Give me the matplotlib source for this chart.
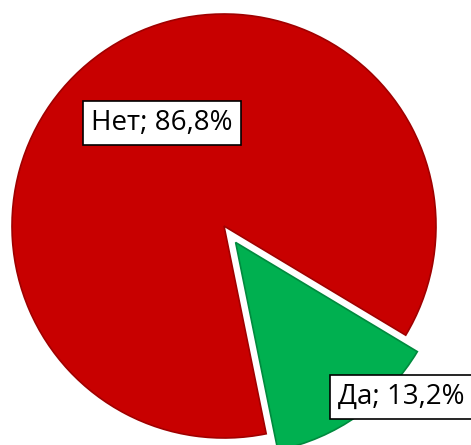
import matplotlib
matplotlib.use("Agg")
import matplotlib.pyplot as plt

categories = ["Нет", "Да"]
values = [86.8, 13.2]
labels = ["Нет; 86,8%", "Да; 13,2%"]

colors = ["#C80000", "#00B050"]
edges = ["#A00000", "#008A3E"]

W, H = 471, 445
fig = plt.figure(figsize=(W / 100, H / 100), dpi=100)
ax = fig.add_axes([0, 0, 1, 1])

cx, cy, r = 224, 226, 212  # pixel centre / radius
wedges, _ = ax.pie(values, colors=colors, startangle=-31, counterclock=True,
                   explode=[0, 0.095], radius=1,
                   wedgeprops=dict(linewidth=1.2))
for w, e in zip(wedges, edges):
    w.set_edgecolor(e)

ax.set_aspect("auto")
ax.set_xlim(-cx / r, (W - cx) / r)
ax.set_ylim(-(H - cy) / r, cy / r)
ax.axis("off")

font = ["Open Sans", "DejaVu Sans"]
box = dict(boxstyle="square,pad=0.3", facecolor="white", edgecolor="black", linewidth=1.2)
fig.text(162 / W, 1 - 123 / H, labels[0], ha="center", va="center",
         fontsize=20, family=font, color="black", bbox=box)
fig.text(338 / W, 1 - 397 / H, labels[1], ha="left", va="center",
         fontsize=20, family=font, color="black", bbox=box)

fig.savefig("out.png", dpi=100)
